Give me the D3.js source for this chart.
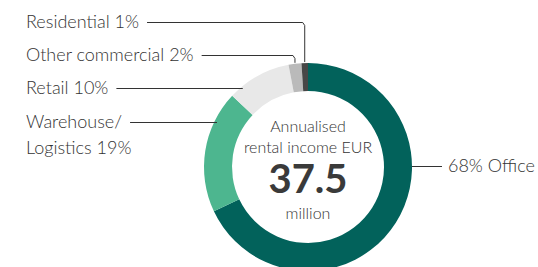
<!DOCTYPE html>
<html>
<head>
<meta charset="utf-8">
<script src="https://cdn.jsdelivr.net/npm/d3@7"></script>
<style>
  body { margin: 0; background: #fff; }
  text { font-family: Lato, "Open Sans", sans-serif; }
</style>
</head>
<body>
<div id="chart"></div>
<script>
// data
var categories = ["Office", "Warehouse/ Logistics", "Retail", "Other commercial", "Residential"];
var shares = [68, 19, 10, 2, 1];
var colors = ["#02625b", "#4db68f", "#e8e8e8", "#bababa", "#474747"];
var labelLines = [["68% Office"], ["Warehouse/", "Logistics 19%"], ["Retail 10%"], ["Other commercial 2%"], ["Residential 1%"]];
var centerLines = ["Annualised", "rental income EUR"];
var centerValue = "37.5";
var centerUnit = "million";

var width = 538, height = 267;
var cx = 308, cy = 167;
var outerR = 104, innerR = 76;

var svg = d3.select("#chart").append("svg")
    .attr("width", width)
    .attr("height", height);

var g = svg.append("g").attr("transform", "translate(" + cx + "," + cy + ")");

var pie = d3.pie().sort(null).value(function(d) { return d; });
var arc = d3.arc().innerRadius(innerR).outerRadius(outerR);
var arcs = pie(shares);

g.selectAll("path")
  .data(arcs)
  .enter().append("path")
  .attr("d", arc)
  .attr("fill", function(d, i) { return colors[i]; });

// ---------- labels ----------
// label baseline (relative to center) and whether it bends down to the slice
var labelLayout = [
  { y: 5,    side: "right", bend: false },
  { y: -39,  side: "left",  bend: false },
  { y: -73,  side: "left",  bend: false },
  { y: -106, side: "left",  bend: true },
  { y: -139, side: "left",  bend: true }
];
var textColor = "#333";
var lineColor = "#333";

arcs.forEach(function(a, i) {
  var lay = labelLayout[i];
  var lineY = lay.y - 5.5;
  var t = svg.append("text")
      .attr("fill", textColor)
      .style("font-size", "18px")
      .style("font-weight", 300);
  labelLines[i].forEach(function(s, k) {
    t.append("tspan")
     .attr("x", lay.side == "left" ? 26 : 0)
     .attr("y", cy + lay.y + k * 26)
     .text(s);
  });
  var mid = (a.startAngle + a.endAngle) / 2;
  if (lay.side == "right") {
    var edgeX = Math.sqrt(outerR * outerR - lineY * lineY);
    t.selectAll("tspan").attr("x", cx + edgeX + 36);
    g.append("line")
      .attr("x1", edgeX).attr("y1", lineY)
      .attr("x2", edgeX + 30).attr("y2", lineY)
      .attr("stroke", lineColor).attr("stroke-width", 1);
  } else {
    var textEnd = 26 + t.select("tspan").node().getComputedTextLength() + 8 - cx;
    if (lay.bend) {
      var px = outerR * Math.sin(mid), py = -outerR * Math.cos(mid);
      g.append("polyline")
        .attr("points", [[textEnd, lineY], [px - 2, lineY], [px, lineY + 3], [px, py - 1]].join(" "))
        .attr("fill", "none")
        .attr("stroke", lineColor).attr("stroke-width", 1);
    } else {
      var ex = -Math.sqrt(outerR * outerR - lineY * lineY);
      g.append("line")
        .attr("x1", textEnd).attr("y1", lineY)
        .attr("x2", ex + 3).attr("y2", lineY)
        .attr("stroke", lineColor).attr("stroke-width", 1);
    }
  }
});

// ---------- center text ----------
g.selectAll(".center")
  .data(centerLines)
  .enter().append("text")
  .attr("text-anchor", "middle")
  .attr("y", function(d, i) { return -35 + i * 21; })
  .attr("fill", textColor)
  .style("font-size", "16px")
  .style("font-weight", 300)
  .text(function(d) { return d; });

g.append("text")
  .attr("text-anchor", "middle")
  .attr("y", 26)
  .attr("fill", "#3a3a3a")
  .style("font-size", "40px")
  .style("font-weight", 700)
  .text(centerValue);

g.append("text")
  .attr("text-anchor", "middle")
  .attr("y", 52)
  .attr("fill", textColor)
  .style("font-size", "16px")
  .style("font-weight", 300)
  .text(centerUnit);
</script>
</body>
</html>
